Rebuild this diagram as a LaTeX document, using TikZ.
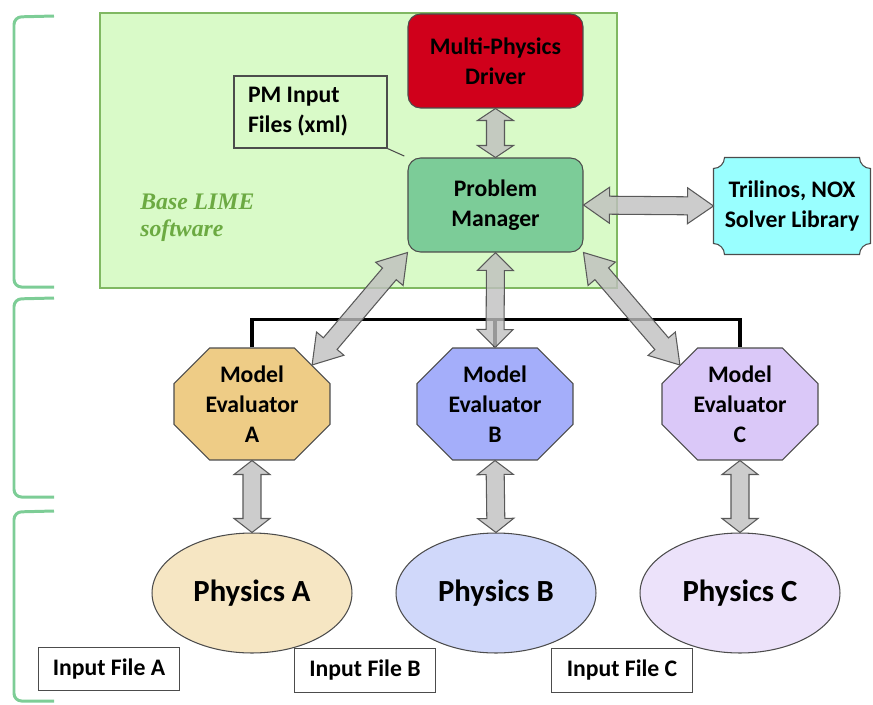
\documentclass[tikz,border=0pt]{standalone}
\usepackage{fontspec}
\setmainfont{Carlito}
\newfontfamily\limefont{Liberation Serif}
\usepackage{tikz}
\usetikzlibrary{calc,positioning,shapes.geometric,shapes.misc,backgrounds}
\usepackage{xcolor}
\definecolor{limefill}{RGB}{217,250,200}
\definecolor{limeline}{RGB}{128,184,98}
\definecolor{limetext}{RGB}{108,170,66}
\definecolor{bracegreen}{RGB}{125,205,150}
\definecolor{driverred}{RGB}{208,0,27}
\definecolor{managergreen}{RGB}{124,204,152}
\definecolor{solvercyan}{RGB}{153,255,255}
\definecolor{evalA}{RGB}{238,204,134}
\definecolor{evalB}{RGB}{164,174,250}
\definecolor{evalC}{RGB}{218,200,248}
\definecolor{physA}{RGB}{246,230,195}
\definecolor{physB}{RGB}{208,216,250}
\definecolor{physC}{RGB}{236,226,250}

\newcommand{\twoway}[3][0.3cm]{%
  \coordinate (ha) at ($(#2)!#1!(#3)$);
  \coordinate (hb) at ($(#3)!#1!(#2)$);
  \draw[bigarrow] (#2) -- ($(ha)!0.36cm!-90:(#3)$) -- ($(ha)!0.18cm!-90:(#3)$)
    -- ($(hb)!0.18cm!90:(#2)$) -- ($(hb)!0.36cm!90:(#2)$) -- (#3)
    -- ($(hb)!0.36cm!-90:(#2)$) -- ($(hb)!0.18cm!-90:(#2)$)
    -- ($(ha)!0.18cm!90:(#3)$) -- ($(ha)!0.36cm!90:(#3)$) -- cycle;}

\begin{document}
\begin{tikzpicture}[x=0.02cm, y=-0.02cm,
  box/.style={draw=black!70, line width=0.6pt, font=\fontsize{13.5}{17}\selectfont\bfseries, align=center, inner sep=0pt},
  roundbox/.style={box, rounded corners=0.25cm, minimum width=3.5cm, minimum height=1.88cm},
  evalbox/.style={box, chamfered rectangle, chamfered rectangle xsep=0.6cm, minimum width=3.12cm, minimum height=2.24cm},
  physbox/.style={box, ellipse, minimum width=4cm, minimum height=2.4cm, font=\fontsize{17.5}{20}\selectfont\bfseries},
  filebox/.style={box, fill=white, minimum width=2.82cm, minimum height=0.87cm},
  bigarrow/.style={fill=black!25, fill opacity=0.8, draw=black!65, line width=0.6pt, line join=miter},
  bus/.style={line width=2.2pt},
  brace/.style={draw=bracegreen, line width=1.7pt, rounded corners=0.15cm}]
  \useasboundingbox (0,0) rectangle (873,704);

  \draw[brace] (54,16) -- (14,17) -- (14,287) -- (54,287);
  \draw[brace] (54,298) -- (14,299) -- (14,497) -- (54,497);
  \draw[brace] (54,511) -- (14,512) -- (14,701) -- (54,701);

  \draw[draw=limeline, fill=limefill, line width=1.1pt] (100,13) rectangle (617,288);
  \node[anchor=west, align=left, inner sep=0pt, text=limetext, font=\limefont\fontsize{13.5}{15.5}\selectfont\bfseries\itshape] (limelabel) at (140,218) {Base LIME\\software};

  \node[roundbox, fill=driverred] (mpd) at (495.5,61) {Multi-Physics\\Driver};
  \node[roundbox, fill=managergreen] (pm) at (495.5,205) {Problem\\Manager};
  \node[box, align=flush left, text width=2.5cm, inner xsep=0.28cm, minimum height=1.44cm] (pmfiles) at (310.5,112) {PM Input\\Files (xml)};
  \draw[draw=black!70, line width=0.6pt, shorten >=2pt] (pmfiles.south east) -- (pm.north west);

  \node[box, draw=none, minimum width=3.12cm, minimum height=1.92cm] (tri) at (792,206) {Trilinos, NOX\\Solver Library};
  \begin{scope}[on background layer]
    \draw[draw=black!70, line width=0.6pt, fill=solvercyan]
      ($(tri.north west)+(0.22cm,0pt)$) -- ($(tri.north east)+(-0.22cm,0pt)$) arc[start angle=180, end angle=270, radius=0.22cm]
      -- ($(tri.south east)+(0pt,0.22cm)$) arc[start angle=90, end angle=180, radius=0.22cm]
      -- ($(tri.south west)+(0.22cm,0pt)$) arc[start angle=0, end angle=90, radius=0.22cm]
      -- ($(tri.north west)+(0pt,-0.22cm)$) arc[start angle=270, end angle=360, radius=0.22cm] -- cycle;
  \end{scope}

  \node[evalbox, fill=evalA] (mea) at (252,404) {Model\\Evaluator\\A};
  \node[evalbox, fill=evalB] (meb) at (495,404) {Model\\Evaluator\\B};
  \node[evalbox, fill=evalC] (mec) at (740,404) {Model\\Evaluator\\C};

  \node[physbox, fill=physA] (phya) at (252,593) {Physics A};
  \node[physbox, fill=physB] (phyb) at (496,593) {Physics B};
  \node[physbox, fill=physC] (phyc) at (740,593) {Physics C};

  \node[filebox] (ina) at (109,669) {Input File A};
  \node[filebox] (inb) at (365,670.5) {Input File B};
  \node[filebox] (inc) at (622,670.5) {Input File C};

  \draw[bus] (mea.north) -- ++(0,-28) -| (mec.north);
  \draw[bus] (meb.north) -- ++(0,-28);

  \twoway[0.24cm]{mpd.south}{pm.north}
  \twoway[0.52cm]{pm.east}{tri.west}
  \twoway[0.36cm]{pm.south}{meb.north}
  \twoway[0.56cm]{pm.south west}{mea.33}
  \twoway[0.56cm]{pm.south east}{mec.147}
  \twoway[0.28cm]{mea.south}{phya.north}
  \twoway[0.28cm]{meb.south}{phyb.north}
  \twoway[0.28cm]{mec.south}{phyc.north}
\end{tikzpicture}
\end{document}
